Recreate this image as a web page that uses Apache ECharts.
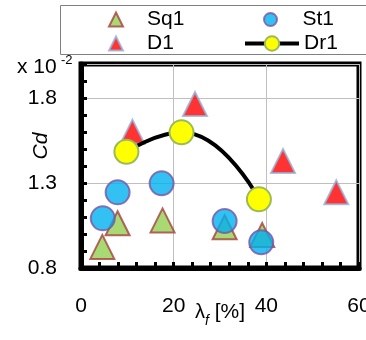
<!DOCTYPE html>
<html>
<head>
<meta charset="utf-8">
<script src="https://cdn.jsdelivr.net/npm/echarts@6/dist/echarts.min.js"></script>
<style>
  html, body { margin: 0; padding: 0; background: #fff; }
  #chart { width: 366px; height: 340px; }
</style>
</head>
<body>
<div id="chart"></div>
<script>
// values: [lambda_f %, Cd x 10^-2]
const sq1 = [[4.6, 0.924], [7.9, 1.063], [17.6, 1.08], [31.0, 1.04], [39.1, 0.994]];
const st1 = [[4.7, 1.092], [7.9, 1.245], [17.4, 1.298], [31.0, 1.076], [38.9, 0.951]];
const d1 = [[11.1, 1.602], [24.6, 1.765], [43.6, 1.43], [55.1, 1.245]];
const dr1 = [[9.8, 1.484], [21.7, 1.598], [38.4, 1.204]];
const yLabelValues = [0.8, 1.3, 1.8];

const font = "'Liberation Sans', Arial, sans-serif";

const chart = echarts.init(document.getElementById('chart'));

// one legend per entry so each sits where it does in the picture
const legendBase = (name, left, top, w, h, textPad) => ({
  data: [name],
  left: left,
  top: top,
  padding: 0,
  itemWidth: w,
  itemHeight: h,
  symbolKeepAspect: true,
  lineStyle: { width: 4, color: '#000' },
  textStyle: { fontSize: 21, color: '#000', fontFamily: font, padding: [0, 0, 0, textPad] }
});

let option = {
  animation: false,
  textStyle: { fontFamily: font },
  grid: {
    left: 81, right: 7, top: 64, bottom: 72,
    containLabel: false,
    outerBoundsMode: 'none',
    show: true,
    borderColor: '#000',
    borderWidth: 5
  },
  legend: [
    legendBase('Sq1', 108, 9, 14, 14, 19),
    legendBase('St1', 263, 9, 14, 13, 20),
    legendBase('D1', 108, 33, 14, 14, 19),
    legendBase('Dr1', 243, 33, 54, 18, 0)
  ],
  graphic: [
    {
      type: 'rect',
      shape: { x: 60.5, y: 5.5, width: 330, height: 49 },
      style: { fill: 'none', stroke: '#808080', lineWidth: 1 }
    },
    {
      type: 'text', x: 17, y: 67,
      style: { text: 'x 10', fontSize: 21, fill: '#000', fontFamily: font, verticalAlign: 'middle' }
    },
    {
      type: 'text', x: 61, y: 60,
      style: { text: '-2', fontSize: 13, fill: '#000', fontFamily: font, verticalAlign: 'middle' }
    }
  ],
  xAxis: {
    type: 'value',
    min: 0, max: 60, interval: 20,
    axisLine: { show: true, lineStyle: { color: '#000', width: 5 } },
    axisTick: { inside: true, length: 6, lineStyle: { color: '#000', width: 3 } },
    minorTick: { show: true, splitNumber: 5, length: 6, lineStyle: { color: '#000', width: 3 } },
    splitLine: { show: true, lineStyle: { color: '#BFBFBF', width: 1 } },
    axisLabel: { fontSize: 21, color: '#000', margin: 28 },
    name: '{l|λ}{s|f}{n| [%]}',
    nameLocation: 'middle',
    nameGap: 28,
    nameMoveOverlap: false,
    nameTextStyle: {
      rich: {
        l: { fontSize: 20, color: '#000', fontFamily: font },
        s: { fontSize: 14, color: '#000', fontStyle: 'italic', fontFamily: font, padding: [18, 0, 0, 0] },
        n: { fontSize: 21, color: '#000', fontFamily: font }
      }
    }
  },
  yAxis: [
    {
      type: 'value',
      min: 0.8, max: 2.0, interval: 0.1,
      axisLine: { show: true, lineStyle: { color: '#000', width: 5 } },
      axisTick: { inside: true, length: 6, lineStyle: { color: '#000', width: 3 } },
      axisLabel: { show: false },
      splitLine: { show: false }
    },
    {
      type: 'value',
      position: 'left',
      min: 0.8, max: 2.0, interval: 0.5,
      axisLine: { show: false },
      axisTick: { show: false },
      axisLabel: {
        fontSize: 21, color: '#000', margin: 24, showMaxLabel: false,
        formatter: v => yLabelValues.some(t => Math.abs(t - v) < 1e-6) ? v.toFixed(1) : ''
      },
      splitLine: { show: true, lineStyle: { color: '#BFBFBF', width: 1 } },
      name: 'Cd',
      nameLocation: 'middle',
      nameRotate: 90,
      nameGap: 29,
      nameMoveOverlap: false,
      nameTextStyle: { fontSize: 21, fontStyle: 'italic', color: '#000', padding: [0, 0, 0, 40] }
    }
  ],
  series: [
    {
      name: 'Sq1', type: 'scatter', data: sq1,
      symbol: 'triangle', symbolSize: 24,
      itemStyle: { color: '#92D050', borderColor: '#A5403D', borderWidth: 2 }
    },
    {
      name: 'St1', type: 'scatter', data: st1,
      symbol: 'circle', symbolSize: 24,
      itemStyle: { color: '#00B0F0', borderColor: '#7A55A0', borderWidth: 2 }
    },
    {
      name: 'D1', type: 'scatter', data: d1,
      symbol: 'triangle', symbolSize: 24,
      itemStyle: { color: '#FF0000', borderColor: '#95B3D7', borderWidth: 2 }
    },
    {
      name: 'Dr1', type: 'line', data: dr1, smooth: true,
      symbol: 'circle', symbolSize: 24, showAllSymbol: true,
      lineStyle: { color: '#000', width: 4 },
      itemStyle: { color: '#FFFF00', borderColor: '#9BBB59', borderWidth: 2 }
    }
  ]
};

chart.setOption(option);
window.addEventListener('resize', () => chart.resize());
</script>
</body>
</html>
